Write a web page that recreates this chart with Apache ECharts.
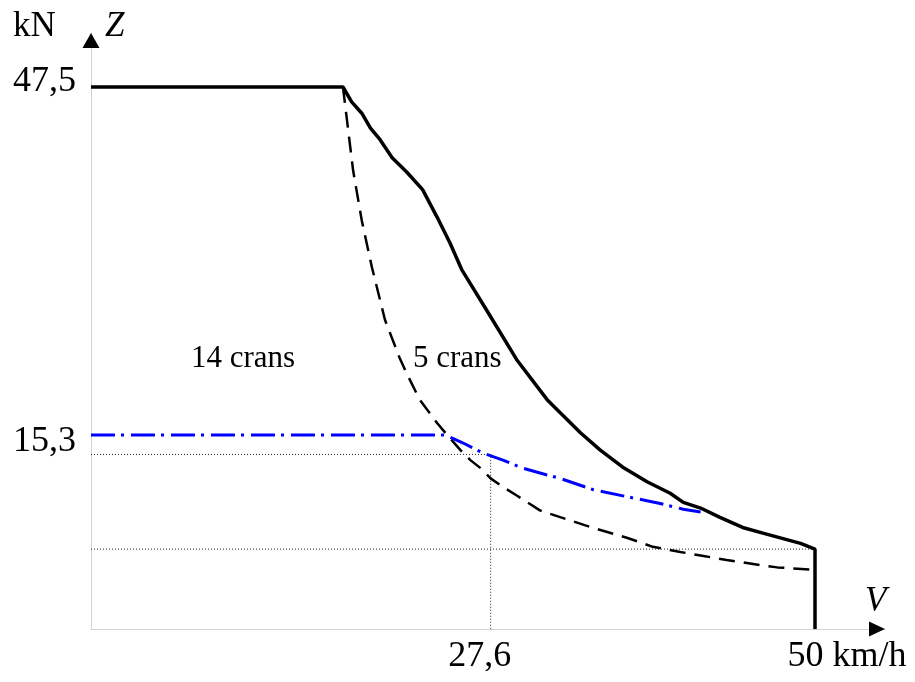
<!DOCTYPE html>
<html><head><meta charset="utf-8">
<script src="https://cdn.jsdelivr.net/npm/echarts@6/dist/echarts.min.js"></script>
<style>html,body{margin:0;padding:0;background:#fff}#c{width:915px;height:682px}</style>
</head><body><div id="c"></div>
<script>
// Traction curve (solid): speed V (km/h) vs effort Z (kN)
const vSolid = [0, 17.4, 18.0, 18.7, 19.3, 19.95, 20.8, 21.8, 22.9, 23.9, 24.8, 25.6, 27.2, 29.4, 31.5, 33.8, 35.15, 36.7, 38.4, 40.0, 40.9, 42.1, 43.4, 45.0, 46.4, 49.0, 50, 50];
const zSolid = [47.5, 47.5, 46.2, 45.2, 43.9, 42.9, 41.3, 40.05, 38.5, 36.1, 33.8, 31.5, 28.2, 23.6, 20.1, 17.2, 15.7, 14.2, 12.9, 11.9, 11.1, 10.6, 9.8, 8.9, 8.4, 7.5, 7.0, 0];
// Dashed curve (5 crans)
const vDashed = [17.4, 18.1, 18.7, 19.4, 20.3, 21.3, 21.8, 22.7, 23.9, 24.6, 25.5, 26.2, 26.9, 27.6, 28.45, 29.4, 31.0, 32.4, 34.7, 37.0, 38.8, 40.7, 42.3, 43.9, 46.2, 47.4, 49.9];
const zDashed = [47.5, 40.2, 35.8, 31.7, 27.1, 23.8, 22.4, 20.1, 18.05, 17.0, 15.7, 14.8, 14.1, 13.2, 12.45, 11.7, 10.4, 9.8, 8.85, 8.0, 7.2, 6.75, 6.4, 6.05, 5.6, 5.4, 5.2];
// Blue dash-dot curve
const vBlue = [0, 24.45, 25.7, 27.1, 28.45, 29.8, 31.5, 32.4, 34.7, 37.0, 39.3, 40.9, 42.1];
const zBlue = [17.0, 17.0, 16.3, 15.4, 14.8, 14.1, 13.5, 13.2, 12.2, 11.6, 11.0, 10.5, 10.25];
// Reference values
const refV = 27.6, refZ = 15.3, endV = 50, endZ = 7.0, maxZ = 47.5;
const yTickValues = [47.5, 15.3];
const xTickValues = [27.6, 50];
const xTickTexts = ['27,6', '50 km/h'];
const yTickTexts = ['47,5', '15,3'];
const annotations = ['14 crans', '5 crans'];

const zip = (a, b) => a.map((v, i) => [v, b[i]]);
const serif = "'Liberation Serif','Times New Roman',serif";

const chart = echarts.init(document.getElementById('c'), null, {renderer: 'canvas'});
const X_MAX = 54.834, Y_MAX = 52.232;

const dotted = {color: '#222', width: 1, type: [1, 2]};
chart.setOption({
  animation: false,
  backgroundColor: '#fff',
  grid: {left: 91, top: 33, width: 794, height: 596, containLabel: false},
  xAxis: {type: 'value', min: 0, max: X_MAX, axisLine: {show: true, onZero: false, lineStyle: {color: '#d2d2d2', width: 1}},
    axisTick: {show: false}, axisLabel: {show: false}, splitLine: {show: false}},
  yAxis: {type: 'value', min: 0, max: Y_MAX, axisLine: {show: true, onZero: false, lineStyle: {color: '#d2d2d2', width: 1}},
    axisTick: {show: false}, axisLabel: {show: false}, splitLine: {show: false}},
  series: [
    {type: 'line', data: [[0, refZ], [refV, refZ], [refV, 0]], showSymbol: false, lineStyle: dotted, z: 1},
    {type: 'line', data: [[0, endZ], [endV, endZ]], showSymbol: false, lineStyle: dotted, z: 1},
    {type: 'line', data: zip(vDashed, zDashed), showSymbol: false, lineStyle: {color: '#000', width: 2.5, type: [16, 9]}, z: 2},
    {type: 'line', data: zip(vBlue, zBlue), showSymbol: false, lineStyle: {color: '#0000ff', width: 3, type: [24, 6, 3, 7]}, z: 3},
    {type: 'line', data: zip(vSolid, zSolid), showSymbol: false, lineStyle: {color: '#000', width: 3.5}, z: 4},
    {type: 'scatter', data: [[0, 51.57]], symbol: 'triangle', symbolSize: [17, 15], itemStyle: {color: '#000', opacity: 1}, z: 5, clip: false},
    {type: 'scatter', data: [[54.28, 0]], symbol: 'triangle', symbolSize: [15, 16], symbolRotate: -90, itemStyle: {color: '#000', opacity: 1}, z: 5, clip: false}
  ]
});

const px = (v, z) => chart.convertToPixel({gridIndex: 0}, [v, z]);
const g = [];
const yOff = [-5, -13];
yTickValues.forEach((val, i) => {
  const p = px(0, val);
  g.push({type: 'text', x: p[0] - 15, y: p[1] + yOff[i], style: {text: yTickTexts[i], font: '36px ' + serif, fill: '#000', textAlign: 'right', textVerticalAlign: 'middle'}});
});
const xOff = [-11, 32];
xTickValues.forEach((val, i) => {
  const p = px(val, 0);
  g.push({type: 'text', x: p[0] + xOff[i], y: p[1] + 28, style: {text: xTickTexts[i], font: '36px ' + serif, fill: '#000', textAlign: 'center', textVerticalAlign: 'middle'}});
});
g.push({type: 'text', x: 13, y: 27, style: {text: 'kN', font: '35px ' + serif, fill: '#000', textAlign: 'left', textVerticalAlign: 'middle'}});
g.push({type: 'text', x: 105, y: 27, style: {text: 'Z', font: 'italic 35px ' + serif, fill: '#000', textAlign: 'left', textVerticalAlign: 'middle'}});
g.push({type: 'text', x: 865, y: 602, style: {text: 'V', font: 'italic 35px ' + serif, fill: '#000', textAlign: 'left', textVerticalAlign: 'middle'}});
g.push({type: 'text', x: 191, y: 359, style: {text: annotations[0], font: '31px ' + serif, fill: '#000', textAlign: 'left', textVerticalAlign: 'middle'}});
g.push({type: 'text', x: 413, y: 359, style: {text: annotations[1], font: '31px ' + serif, fill: '#000', textAlign: 'left', textVerticalAlign: 'middle'}});
chart.setOption({graphic: g});
</script></body></html>
